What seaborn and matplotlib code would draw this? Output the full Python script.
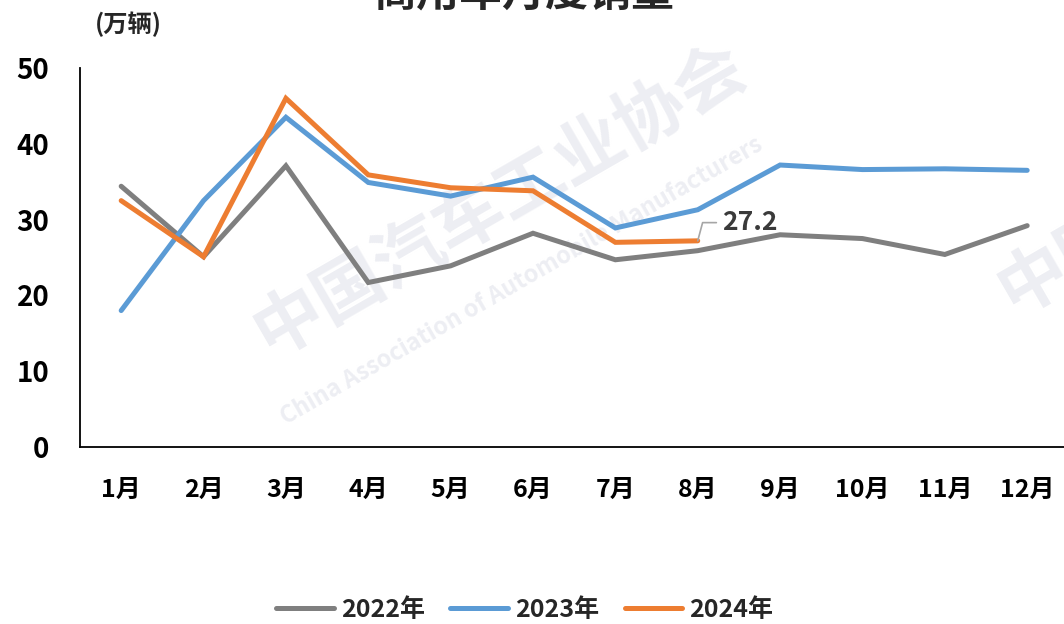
import matplotlib
matplotlib.use("Agg")
import numpy as np
import pandas as pd
import seaborn as sns
from matplotlib import pyplot as plt

# values (万辆)
months = ["1月", "2月", "3月", "4月", "5月", "6月", "7月", "8月", "9月", "10月", "11月", "12月"]
sales_2022 = [34.4, 25.1, 37.1, 21.7, 23.9, 28.2, 24.7, 25.9, 28.0, 27.5, 25.4, 29.2]
sales_2023 = [18.0, 32.5, 43.5, 34.9, 33.1, 35.6, 28.9, 31.3, 37.2, 36.6, 36.7, 36.5]
sales_2024 = [32.5, 25.1, 46.0, 35.9, 34.2, 33.8, 27.0, 27.2]
years = ["2022年", "2023年", "2024年"]
colors = ["#7F7F7F", "#5B9BD5", "#ED7D31"]

rows = []
for year, vals in zip(years, [sales_2022, sales_2023, sales_2024]):
    for i, v in enumerate(vals):
        rows.append({"month": i, "year": year, "sales": v})
df = pd.DataFrame(rows)

sns.set_theme(style="white")
plt.rcParams["font.family"] = ["Noto Sans CJK SC", "DejaVu Sans"]
plt.rcParams["font.weight"] = "bold"

fig = plt.figure(figsize=(10.64, 6.24), dpi=100)
ax = fig.add_axes([80 / 1064, 177 / 624, 984 / 1064, 379 / 624])
ax.set_facecolor("none")

# watermark (very light, behind the lines)
wm = "#EDEEF3"
ax.text(0.47, 0.68, "中国汽车工业协会", fontsize=50, color=wm, rotation=30,
        ha="center", va="center", zorder=0, transform=fig.transFigure, clip_on=False)
ax.text(0.49, 0.55, "China Association of Automobile Manufacturers", fontsize=17,
        color=wm, rotation=30, ha="center", va="center", zorder=0,
        transform=fig.transFigure, clip_on=False)
ax.text(1.0, 0.58, "中国", fontsize=50, color=wm, rotation=30, ha="center",
        va="center", zorder=0, transform=fig.transFigure, clip_on=False)

sns.lineplot(data=df, x="month", y="sales", hue="year", hue_order=years,
             palette=colors, linewidth=3.6, ax=ax, legend=True, zorder=3)
for line in ax.get_lines():
    line.set_solid_capstyle("round")
    line.set_solid_joinstyle("miter")

ax.set_xlim(-0.5, 11.447)
ax.set_ylim(0, 50)
ax.set_xticks(range(12))
ax.set_xticklabels(months)
ax.set_yticks(range(0, 51, 10))
ax.tick_params(axis="x", length=0, pad=22, labelsize=18)
ax.tick_params(axis="y", length=0, pad=22, labelsize=20)
for lbl in ax.get_xticklabels() + ax.get_yticklabels():
    lbl.set_fontweight("bold")
    lbl.set_color("black")
ax.set_xlabel("")
ax.set_ylabel("")
for side in ["top", "right"]:
    ax.spines[side].set_visible(False)
for side in ["left", "bottom"]:
    ax.spines[side].set_color("black")
    ax.spines[side].set_linewidth(1.3)

# last-value label
ax.annotate(f"{sales_2024[-1]}", xy=(7, sales_2024[-1]), xytext=(7.3, 29.6),
            fontsize=19, fontweight="bold", color="#3A3A3A", ha="left", va="center",
            arrowprops=dict(arrowstyle="-", color="#A6A6A6", lw=1.2,
                            connectionstyle="angle,angleA=0,angleB=75,rad=0",
                            shrinkA=2, shrinkB=0))

handles, labels = ax.get_legend_handles_labels()
ax.get_legend().remove()
leg = fig.legend(handles, labels, loc="center", bbox_to_anchor=(525 / 1064, 1 - 610 / 624),
                 ncol=3, frameon=False, handlelength=2.3, columnspacing=1.0,
                 handletextpad=0.3, prop={"size": 18, "weight": "bold"})

fig.text(95 / 1064, 1 - 24 / 624, "(万辆)", fontsize=17.5, fontweight="bold",
         ha="left", va="center")
fig.text(0.493, 0.991, "商用车月度销量", fontsize=31, fontweight="bold",
         ha="center", va="baseline")

fig.savefig("out.png", dpi=100)
